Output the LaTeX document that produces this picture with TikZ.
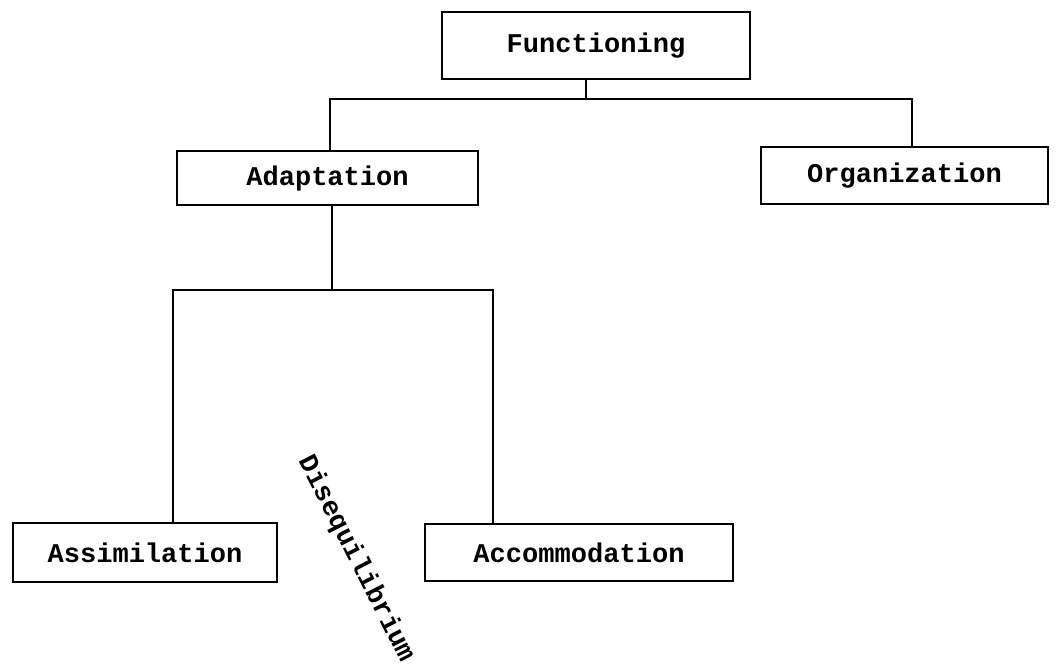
\documentclass[tikz,border=0pt]{standalone}
\usepackage{fontspec}
\setmonofont{Liberation Mono}

\begin{document}
\begin{tikzpicture}[
        x=0.02cm, y=-0.02cm,
        block/.style={rectangle, draw=black, line width=1.5pt, inner sep=0pt,
            font=\ttfamily\bfseries\fontsize{15.4}{18}\selectfont},
        link/.style={line width=1.5pt, line join=miter},
        tag/.style={font=\ttfamily\bfseries\fontsize{15.4}{18}\selectfont}
    ]

    \useasboundingbox (0,0) rectangle (1057,667);

    % Top level
    \node[block, minimum width=6.16cm, minimum height=1.34cm] (func) at (596,45.5) {Functioning};

    % Second level
    \node[block, minimum width=6.02cm, minimum height=1.08cm] (adapt) at (327.5,178) {Adaptation};
    \node[block, minimum width=5.74cm, minimum height=1.14cm] (organ) at (904.5,175.5) {Organization};

    % Third level
    \node[block, minimum width=5.28cm, minimum height=1.18cm] (assim) at (145,552.5) {Assimilation};
    \node[block, minimum width=6.16cm, minimum height=1.14cm] (accom) at (579,552.5) {Accommodation};

    % Rotated label between the two
    \node[tag, rotate=-63] (diseq) at (356,559) {Disequilibrium};

    % Bus points
    \coordinate (f1) at (586,99);
    \coordinate (dA) at (330,99);
    \coordinate (dO) at (912,99);
    \coordinate (f2) at (332,290);
    \coordinate (dS) at (173,290);
    \coordinate (dC) at (493,290);

    % Connections: Functioning to Adaptation and Organization
    \draw[link] (func.south -| f1) -- (f1);
    \draw[link] (adapt.north -| dA) -- (dA) -- (dO) -- (organ.north -| dO);

    % Connections: Adaptation to Assimilation and Accommodation
    \draw[link] (adapt.south -| f2) -- (f2);
    \draw[link] (assim.north -| dS) -- (dS) -- (dC) -- (accom.north -| dC);

\end{tikzpicture}
\end{document}
